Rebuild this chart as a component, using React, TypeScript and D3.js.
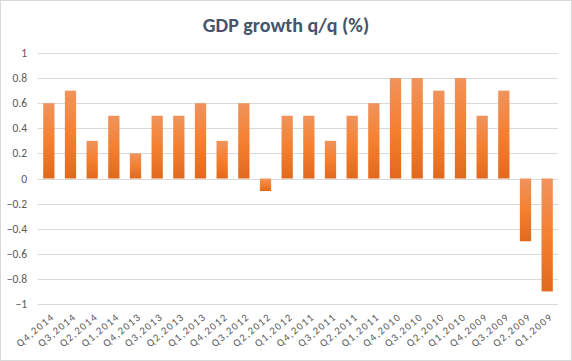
import React, { useRef, useEffect } from 'react';
import * as d3 from 'd3';

const quarters = [
  'Q4,2014', 'Q3,2014', 'Q2,2014', 'Q1,2014',
  'Q4,2013', 'Q3,2013', 'Q2,2013', 'Q1,2013',
  'Q4,2012', 'Q3,2012', 'Q2,2012', 'Q1,2012',
  'Q4,2011', 'Q3,2011', 'Q2,2011', 'Q1,2011',
  'Q4,2010', 'Q3,2010', 'Q2,2010', 'Q1,2010',
  'Q4,2009', 'Q3,2009', 'Q2,2009', 'Q1,2009',
];
const growth = [
  0.6, 0.7, 0.3, 0.5,
  0.2, 0.5, 0.5, 0.6,
  0.3, 0.6, -0.1, 0.5,
  0.5, 0.3, 0.5, 0.6,
  0.8, 0.8, 0.7, 0.8,
  0.5, 0.7, -0.5, -0.9,
];
const yTicks = [1, 0.8, 0.6, 0.4, 0.2, 0, -0.2, -0.4, -0.6, -0.8, -1];

const App = () => {
  const svgRef = useRef<SVGSVGElement>(null);
  const width = 572;
  const height = 361;

  useEffect(() => {
    document.body.style.margin = '0';
    const margin = { top: 53, right: 14, bottom: 57, left: 38 };
    const font = 'Carlito, Calibri, "Open Sans", sans-serif';

    const svg = d3.select(svgRef.current).attr('width', width).attr('height', height);
    svg.selectAll('*').remove();

    // background + border
    svg.append('rect')
      .attr('x', 0.5).attr('y', 0.5)
      .attr('width', width - 1).attr('height', height - 1)
      .attr('fill', '#fff')
      .attr('stroke', '#d9d9d9');

    const defs = svg.append('defs');
    const grad = defs.append('linearGradient')
      .attr('id', 'barGrad')
      .attr('x1', 0).attr('y1', 0).attr('x2', 0).attr('y2', 1);
    grad.append('stop').attr('offset', '0%').attr('stop-color', '#f0935c');
    grad.append('stop').attr('offset', '50%').attr('stop-color', '#f58030');
    grad.append('stop').attr('offset', '100%').attr('stop-color', '#e2691c');

    const xScale = d3.scaleBand()
      .domain(quarters)
      .range([margin.left, width - margin.right])
      .paddingInner(0.48)
      .paddingOuter(0.24);

    const yScale = d3.scaleLinear()
      .domain([-1, 1])
      .range([height - margin.bottom, margin.top]);

    // gridlines
    svg.append('g')
      .selectAll('line')
      .data(yTicks)
      .enter()
      .append('line')
      .attr('x1', margin.left)
      .attr('x2', width - margin.right)
      .attr('y1', d => Math.round(yScale(d)) + 0.5)
      .attr('y2', d => Math.round(yScale(d)) + 0.5)
      .attr('stroke', '#d9d9d9')
      .attr('stroke-width', 1);

    // y labels
    svg.append('g')
      .selectAll('text')
      .data(yTicks)
      .enter()
      .append('text')
      .attr('x', 27)
      .attr('y', d => yScale(d))
      .attr('dy', '0.35em')
      .attr('text-anchor', 'end')
      .attr('font-family', font)
      .attr('font-size', 11.5)
      .attr('fill', '#595959')
      .text(d => d3.format('')(d));

    // bars
    svg.append('g')
      .selectAll('rect')
      .data(growth)
      .enter()
      .append('rect')
      .attr('x', (d, i) => xScale(quarters[i]))
      .attr('y', d => yScale(Math.max(0, d)))
      .attr('width', xScale.bandwidth())
      .attr('height', d => Math.abs(yScale(d) - yScale(0)))
      .attr('fill', 'url(#barGrad)');

    // x labels
    svg.append('g')
      .selectAll('text')
      .data(quarters)
      .enter()
      .append('text')
      .attr('transform', d => `translate(${xScale(d) + xScale.bandwidth() / 2 + 4}, ${height - margin.bottom + 11}) rotate(-40)`)
      .attr('text-anchor', 'end')
      .attr('dy', '0.35em')
      .attr('font-family', font)
      .attr('font-size', 10.5)
      .attr('letter-spacing', 1.4)
      .attr('fill', '#595959')
      .text(d => d);

    // title
    svg.append('text')
      .attr('x', width / 2)
      .attr('y', 32)
      .attr('text-anchor', 'middle')
      .attr('font-family', font)
      .attr('font-size', 20)
      .attr('font-weight', 'bold')
      .attr('fill', '#44546a')
      .text('GDP growth q/q (%)');
  }, []);

  return <svg ref={svgRef} style={{ display: 'block' }}></svg>;
};

export default App;
